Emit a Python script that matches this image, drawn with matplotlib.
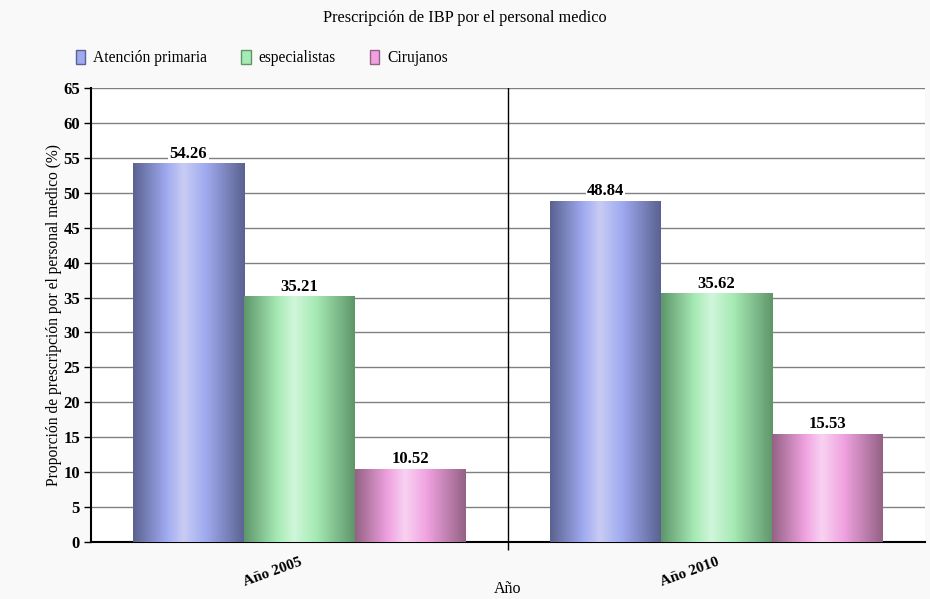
import numpy as np
import matplotlib
matplotlib.use("Agg")
import matplotlib.pyplot as plt
from matplotlib.patches import Patch
from matplotlib.colors import LinearSegmentedColormap

plt.rcParams['font.family'] = ['Liberation Serif', 'DejaVu Serif']

categories = ["Año 2005", "Año 2010"]
series_names = ["Atención primaria", "especialistas", "Cirujanos"]
atencion = [54.26, 48.84]
especialistas = [35.21, 35.62]
cirujanos = [10.52, 15.53]
values = [atencion, especialistas, cirujanos]
yticks = list(range(0, 70, 5))

palettes = [
    ["#5a6290", "#a0aaf0", "#c8ccf4", "#a0aaf0", "#5a6290"],
    ["#5e966a", "#a6eab4", "#d0f6da", "#a6eab4", "#5e966a"],
    ["#946284", "#f0a2e0", "#f8d2f2", "#f0a2e0", "#946284"],
]
stops = [0.0, 0.3, 0.45, 0.65, 1.0]

fig = plt.figure(figsize=(9.3, 5.99), dpi=100, facecolor="#f9f9f9")
ax = fig.add_axes([91/930, 1-542/599, (925-91)/930, (542-88)/599])
ax.set_facecolor("white")

x = np.arange(len(categories))
bw = 111/417
offsets = [-bw, 0, bw]
grad = np.linspace(0, 1, 256).reshape(1, -1)

for i, vals in enumerate(values):
    bars = ax.bar(x + offsets[i], vals, bw, color=palettes[i][1], zorder=3,
                  linewidth=0)
    cmap = LinearSegmentedColormap.from_list(
        f"g{i}", list(zip(stops, palettes[i])))
    for b in bars:
        bx, by = b.get_x(), b.get_y()
        w, h = b.get_width(), b.get_height()
        im = ax.imshow(grad, cmap=cmap, extent=[bx, bx + w, by, by + h],
                       aspect='auto', zorder=3.5, interpolation='bicubic')
        im.set_clip_path(b)
    ax.bar_label(bars, labels=[f"{v:.2f}" for v in vals], padding=1,
                 fontsize=12, fontweight='bold', zorder=5,
                 bbox=dict(facecolor='white', edgecolor='none', pad=1))

ax.set_xlim(-0.5, 1.5)
ax.set_ylim(0, 65)
ax.set_yticks(yticks)
ax.set_yticklabels([str(t) for t in yticks], fontsize=12, fontweight='bold')
ax.yaxis.grid(True, color='#808080', linewidth=1, zorder=0)
ax.set_axisbelow(True)
ax.set_xticks(x)
ax.set_xticklabels(categories, rotation=20, fontsize=11, fontweight='bold',
                   ha='right', rotation_mode='anchor')
ax.tick_params(axis='x', length=0, pad=10)
ax.tick_params(axis='y', length=5, width=1, direction='out', pad=3)
ax.set_xticks([0.5], minor=True)
ax.tick_params(axis='x', which='minor', length=6, width=1, direction='out')
ax.axvline(0.5, color='black', linewidth=1, zorder=1)

for s in ['top', 'right']:
    ax.spines[s].set_visible(False)
ax.spines['left'].set_linewidth(1.5)
ax.spines['bottom'].set_linewidth(1.5)

ax.set_ylabel("Proporción de prescripción por el personal medico (%)",
              fontsize=11.2)
ax.yaxis.set_label_coords(-(91-62)/834, 0.5)
ax.set_xlabel("Año", fontsize=11.5, va='center')
ax.xaxis.set_label_coords(0.5, -(589-542)/454)

fig.text(0.5, 1-18/599, "Prescripción de IBP por el personal medico",
         ha='center', va='center', fontsize=11.7)

handles = [Patch(facecolor=palettes[i][1], edgecolor=palettes[i][0],
                 label=series_names[i]) for i in range(3)]
fig.legend(handles=handles, loc='center left',
           bbox_to_anchor=(62/930, 1-58/599), ncol=3, frameon=False,
           fontsize=11.2, handlelength=0.6, handleheight=1.0,
           columnspacing=2.2, handletextpad=0.5)

fig.savefig("out.png", dpi=100, facecolor=fig.get_facecolor())
